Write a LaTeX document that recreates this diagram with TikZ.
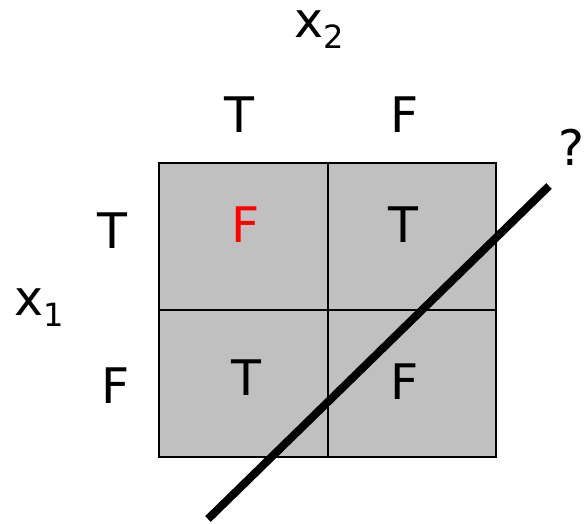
\documentclass[tikz,border=0pt]{standalone}
\usepackage{fontspec}
\setmainfont{DejaVu Sans}
\usetikzlibrary{positioning}
\definecolor{cellgray}{RGB}{192,192,192}
\newcommand{\subidx}[1]{\raisebox{-11pt}{\fontsize{32}{32}\selectfont #1}}
\tikzset{lbl/.style={anchor=base, inner sep=0pt, font=\fontsize{49}{58}\selectfont}}

\begin{document}
\begin{tikzpicture}[x=1pt,y=-1pt]
    \useasboundingbox (0,0) rectangle (584,523);
    % the 2x2 table
    \draw[line width=1.5pt, fill=cellgray] (159,163) rectangle (496,457);
    \draw[line width=1.5pt] (328,163) -- (328,457) (159,310) -- (496,310);
    % headings
    \node[lbl] (x2) at (319,37) {x\subidx{2}}; \node[lbl] (x1) at (39,315)
    {x\subidx{1}}; \node[lbl] (t2) at (239,132) {T}; \node[lbl] (f2) at
    (405,132) {F}; \node[lbl] (t1) at (112,248) {T}; \node[lbl] (f1) at
    (116,403) {F};
    % cells
    \node[lbl, text=red] (c11) at (246,242) {F}; \node[lbl] (c12) at
    (403,242) {T}; \node[lbl] (c21) at (246,395) {T}; \node[lbl] (c22) at
    (405,399) {F};
    % separating line
    \coordinate (s0) at (208,519); \coordinate (s1) at (549,186);
    \draw[line width=8pt] (s0) -- (s1); \node[lbl] (q) at (571,165) {?};
  \end{tikzpicture}
\end{document}
